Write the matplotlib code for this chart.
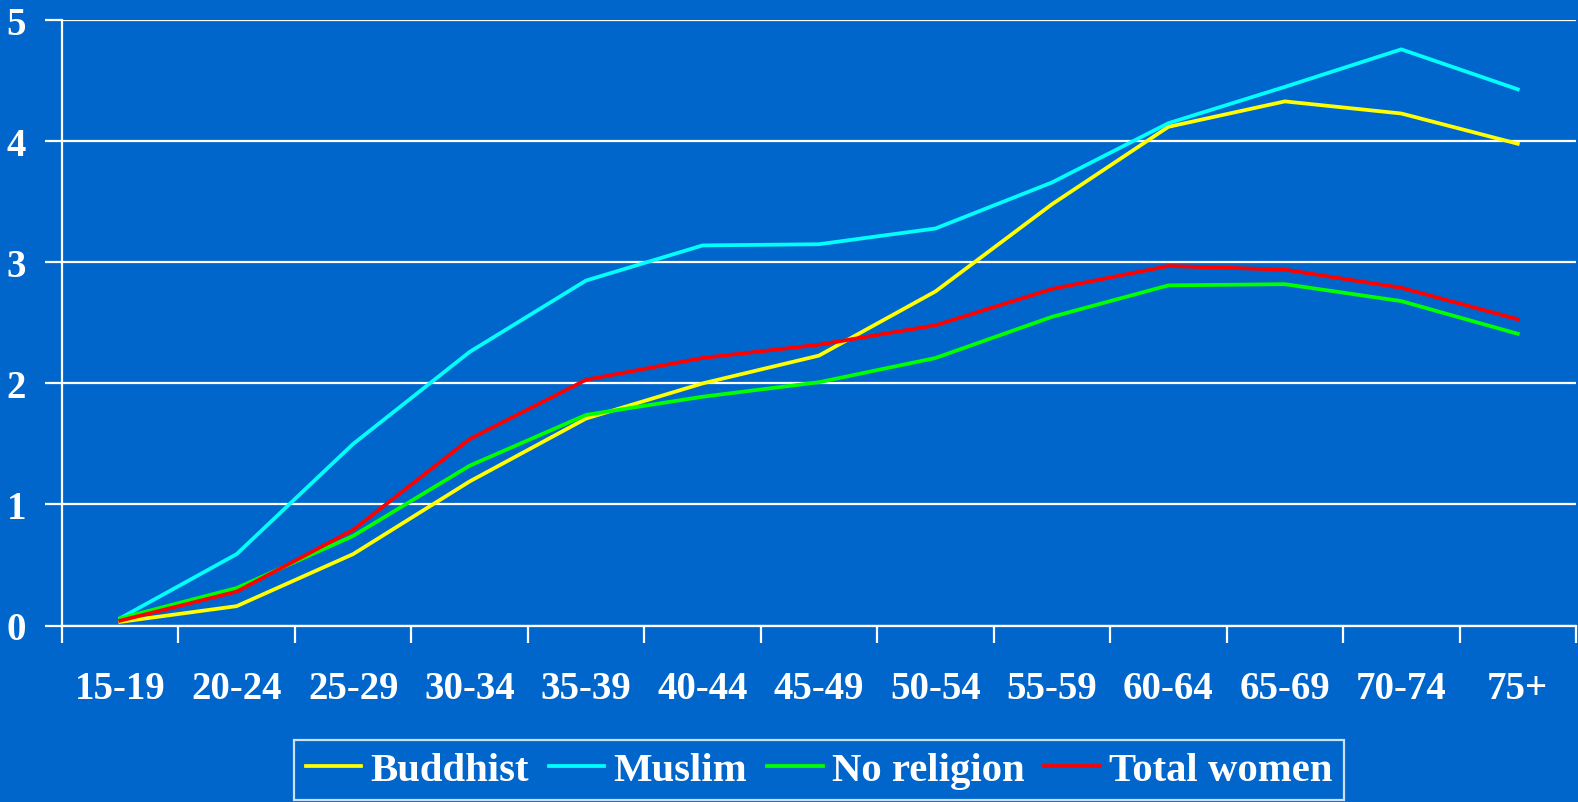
import matplotlib.pyplot as plt
import numpy as np

age_groups = ['15-19', '20-24', '25-29', '30-34', '35-39', '40-44', '45-49',
              '50-54', '55-59', '60-64', '65-69', '70-74', '75+']
buddhist = [0.03, 0.16, 0.59, 1.19, 1.71, 2.00, 2.23, 2.76, 3.48, 4.12, 4.33, 4.23, 3.98]
muslim = [0.06, 0.59, 1.50, 2.26, 2.85, 3.14, 3.15, 3.28, 3.66, 4.15, 4.45, 4.76, 4.43]
no_religion = [0.06, 0.31, 0.74, 1.32, 1.74, 1.89, 2.01, 2.21, 2.55, 2.81, 2.82, 2.68, 2.41]
total_women = [0.04, 0.28, 0.79, 1.54, 2.03, 2.21, 2.32, 2.48, 2.78, 2.97, 2.94, 2.79, 2.53]

BG = '#0066CC'
plt.rcParams['font.family'] = ['Liberation Serif', 'DejaVu Serif']
plt.rcParams['font.weight'] = 'bold'

fig = plt.figure(figsize=(15.78, 8.03), dpi=100, facecolor=BG)
ax = fig.add_axes([62 / 1578, 1 - 626.5 / 803, (1576 - 62) / 1578, (626.5 - 21.3) / 803])
ax.set_facecolor(BG)

x = np.arange(len(age_groups))
ax.plot(x, buddhist, color='#FFFF00', lw=2.7, label='Buddhist')
ax.plot(x, muslim, color='#00FFFF', lw=2.7, label='Muslim')
ax.plot(x, no_religion, color='#00FF00', lw=2.7, label='No religion')
ax.plot(x, total_women, color='#FF0000', lw=2.7, label='Total women')

ax.set_xlim(-0.5, len(age_groups) - 0.5)
ax.set_ylim(0, 5)
ax.set_yticks(range(6))
ax.yaxis.grid(True, color='white', lw=1.6)
ax.set_axisbelow(True)

# tick marks between categories, labels at centres
ax.set_xticks(np.arange(-0.5, len(age_groups)), minor=False)
ax.set_xticklabels([])
ax.set_xticks(x, minor=True)
ax.set_xticklabels(age_groups, minor=True)
ax.tick_params(axis='x', which='major', direction='out', length=12, width=1.6, color='white')
ax.tick_params(axis='x', which='minor', length=0, pad=32, labelsize=28, labelcolor='white')
ax.tick_params(axis='y', direction='out', length=12, width=1.6, color='white',
               pad=14, labelsize=28, labelcolor='white')

for side in ['top', 'right']:
    ax.spines[side].set_visible(False)
for side in ['left', 'bottom']:
    ax.spines[side].set_color('white')
    ax.spines[side].set_linewidth(1.6)

leg = fig.legend(loc='lower center', bbox_to_anchor=(0.519, 0.002), ncol=4,
                 fontsize=29.3, frameon=True, fancybox=False, facecolor=BG,
                 edgecolor='white', handlelength=1.37, handletextpad=0.22,
                 columnspacing=0.49, borderpad=0.28, borderaxespad=0.0)
leg.get_frame().set_linewidth(1.6)
for t in leg.get_texts():
    t.set_color('white')

fig.savefig('out.png', dpi=100, facecolor=BG)
